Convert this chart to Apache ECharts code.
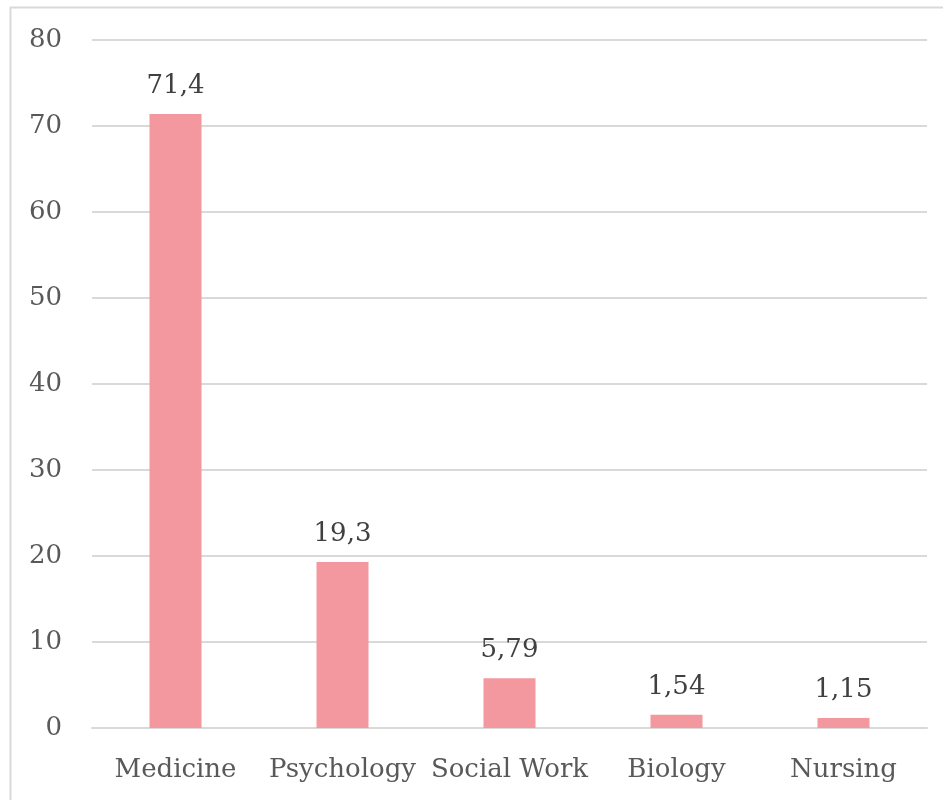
<!DOCTYPE html>
<html><head><meta charset="utf-8">
<script src="https://cdn.jsdelivr.net/npm/echarts@6/dist/echarts.min.js"></script>
<style>html,body{margin:0;padding:0;background:#fff}#c{width:943px;height:800px}</style>
</head><body><div id="c"></div>
<script>
const categories = ["Medicine", "Psychology", "Social Work", "Biology", "Nursing"];
const values = [71.4, 19.3, 5.79, 1.54, 1.15];
const labels = ["71,4", "19,3", "5,79", "1,54", "1,15"];
const yTicks = [0, 10, 20, 30, 40, 50, 60, 70, 80];

const FONT = "DejaVu Serif";
const chart = echarts.init(document.getElementById('c'), null, {renderer: 'canvas'});
chart.setOption({
  animation: false,
  backgroundColor: '#fff',
  graphic: [{
    type: 'rect', shape: {x: 10.5, y: 7.5, width: 1000, height: 1000},
    style: {fill: 'none', stroke: '#d9d9d9', lineWidth: 2}, silent: true
  }],
  grid: {left: 92, right: 16, top: 40, bottom: 72, containLabel: false},
  xAxis: {
    type: 'category', data: categories,
    axisLine: {show: true, lineStyle: {color: '#d9d9d9', width: 2}},
    axisTick: {show: false},
    axisLabel: {color: '#595959', fontFamily: FONT, fontSize: 26, margin: 29, interval: 0}
  },
  yAxis: {
    type: 'value', min: yTicks[0], max: yTicks[yTicks.length - 1], interval: 10,
    axisLine: {show: false}, axisTick: {show: false},
    splitLine: {lineStyle: {color: '#d9d9d9', width: 2}},
    axisLabel: {color: '#595959', fontFamily: FONT, fontSize: 26, margin: 30}
  },
  series: [{
    type: 'bar', data: values, barWidth: 52,
    itemStyle: {color: '#F4989F'},
    label: {
      show: true, position: 'top', distance: 15,
      color: '#404040', fontFamily: FONT, fontSize: 26,
      formatter: p => labels[p.dataIndex]
    }
  }]
});
</script></body></html>
